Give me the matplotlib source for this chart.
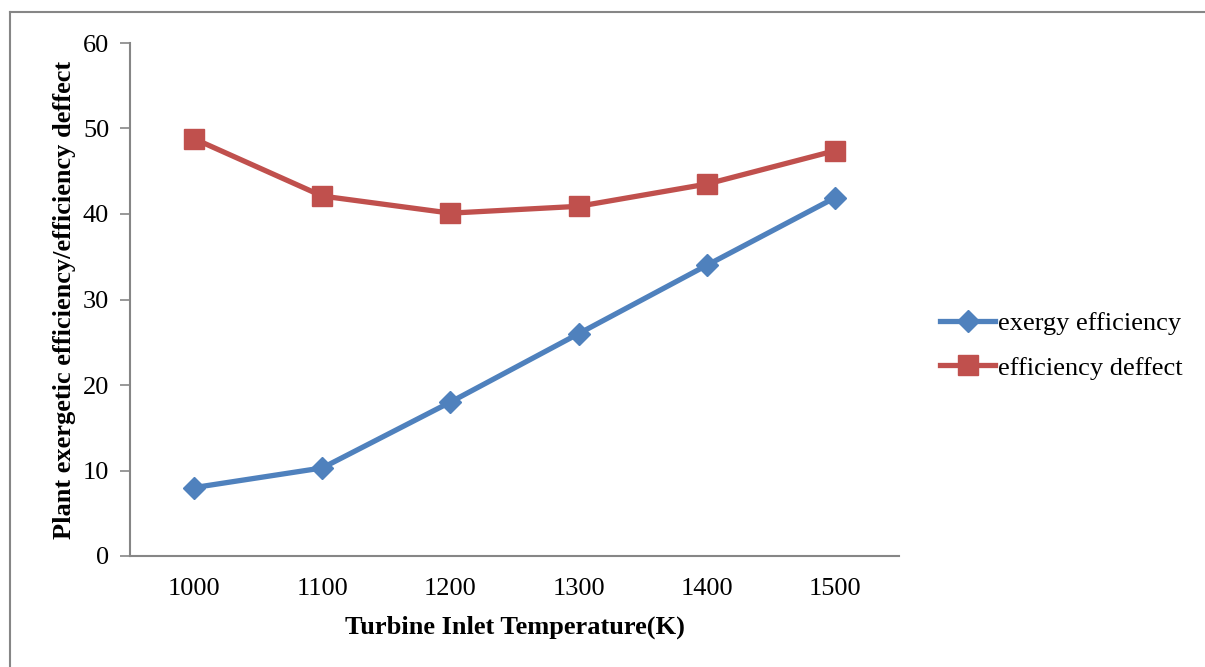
import matplotlib
matplotlib.use('Agg')
import matplotlib.pyplot as plt
from matplotlib.lines import Line2D

temps = ['1000', '1100', '1200', '1300', '1400', '1500']
exergy_eff = [8.0, 10.3, 18.0, 26.0, 34.0, 41.9]
eff_deffect = [48.8, 42.1, 40.1, 40.9, 43.5, 47.4]

plt.rcParams['font.family'] = 'Liberation Serif'

fig = plt.figure(figsize=(12.05, 6.67), dpi=100)
ax = fig.add_axes([130/1205, 1-556/667, (899-130)/1205, (556-43)/667])

x = range(len(temps))
ax.plot(x, exergy_eff, color='#4F81BD', lw=3.8, marker='D', ms=11,
        label='exergy efficiency')
ax.plot(x, eff_deffect, color='#C0504D', lw=3.8, marker='s', ms=14.5,
        label='efficiency deffect')

ax.set_xlim(-0.5, 5.5)
ax.set_ylim(0, 60)
ax.set_xticks(list(x))
ax.set_xticklabels(temps)
ax.set_yticks(range(0, 61, 10))
ax.tick_params(axis='x', length=0, labelsize=19, pad=16)
ax.tick_params(axis='y', length=7, width=1.2, color='#868686', labelsize=19, pad=8)
for s in ['top', 'right']:
    ax.spines[s].set_visible(False)
for s in ['left', 'bottom']:
    ax.spines[s].set_color('#868686')
    ax.spines[s].set_linewidth(1.5)

ax.set_xlabel('Turbine Inlet Temperature(K)', fontsize=19, fontweight='bold', labelpad=11)
ax.set_ylabel('Plant exergetic efficiency/efficiency deffect', fontsize=19,
              fontweight='bold', labelpad=5)

ax.legend(loc='center left', bbox_to_anchor=(1.0533, 0.41), frameon=False,
          fontsize=19, handlelength=2.1, handletextpad=0.08, labelspacing=0.8,
          borderaxespad=0, borderpad=0)

# outer chart border (only top and left visible)
fig.add_artist(Line2D([10/1205, 10/1205], [0, 1-12/667], color='#868686', lw=1.5))
fig.add_artist(Line2D([10/1205, 1], [1-12/667, 1-12/667], color='#868686', lw=1.5))

fig.savefig('out.png', dpi=100)
